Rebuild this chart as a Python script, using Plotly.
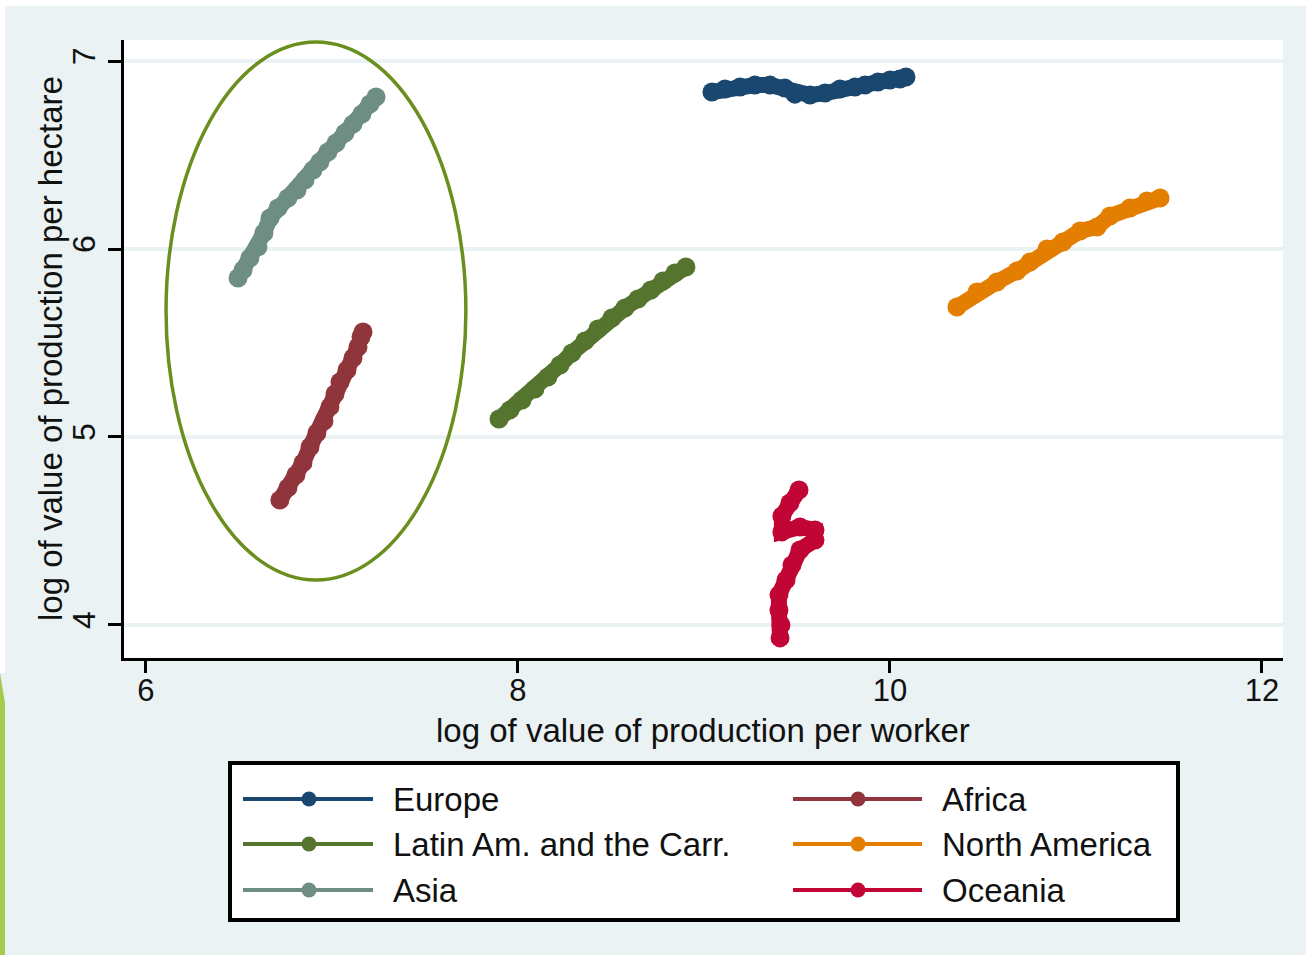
import plotly.graph_objects as go

W, H = 1306, 955

# ---- data: log value of production per worker (x) vs per hectare (y) ----
europe_x = [9.043, 9.113, 9.194, 9.274, 9.355, 9.435, 9.489, 9.570, 9.651, 9.731,
            9.812, 9.866, 9.935, 10.000, 10.054, 10.086]
europe_y = [6.835, 6.851, 6.862, 6.872, 6.872, 6.856, 6.824, 6.819, 6.830, 6.851,
            6.862, 6.872, 6.888, 6.899, 6.904, 6.915]

latin_x = [7.898, 7.957, 8.022, 8.091, 8.161, 8.226, 8.290, 8.360, 8.430, 8.505,
           8.575, 8.645, 8.715, 8.780, 8.844, 8.903]
latin_y = [5.096, 5.144, 5.197, 5.255, 5.319, 5.383, 5.447, 5.511, 5.574, 5.633,
           5.686, 5.734, 5.782, 5.830, 5.872, 5.904]

asia_x = [6.495, 6.522, 6.559, 6.602, 6.634, 6.667, 6.710, 6.763, 6.812, 6.855,
          6.898, 6.935, 6.978, 7.022, 7.070, 7.113, 7.161, 7.204, 7.237]
asia_y = [5.846, 5.888, 5.952, 6.011, 6.085, 6.165, 6.218, 6.271, 6.314, 6.367,
          6.420, 6.463, 6.516, 6.564, 6.617, 6.665, 6.718, 6.771, 6.809]

africa_x = [6.720, 6.763, 6.806, 6.844, 6.882, 6.919, 6.957, 6.989, 7.016, 7.043,
            7.081, 7.113, 7.140, 7.156, 7.167]
africa_y = [4.665, 4.729, 4.798, 4.862, 4.947, 5.021, 5.085, 5.160, 5.229, 5.293,
            5.356, 5.420, 5.479, 5.532, 5.559]

namerica_x = [10.360, 10.468, 10.575, 10.683, 10.753, 10.844, 10.930, 11.022,
              11.113, 11.183, 11.290, 11.382, 11.452]
namerica_y = [5.691, 5.771, 5.824, 5.883, 5.931, 6.000, 6.037, 6.096,
              6.117, 6.176, 6.218, 6.255, 6.271]

oceania_x = [9.511, 9.462, 9.419, 9.419, 9.516, 9.597, 9.597, 9.516, 9.473,
             9.441, 9.403, 9.403, 9.414, 9.409]
oceania_y = [4.718, 4.649, 4.580, 4.495, 4.521, 4.505, 4.452, 4.399, 4.319,
             4.239, 4.160, 4.080, 4.000, 3.931]

regions = ["Europe", "Latin Am. and the Carr.", "Asia", "Africa", "North America", "Oceania"]
colors = ["#1a476f", "#55752f", "#6e8e84", "#90353b", "#e37e00", "#c10534"]
series = [(europe_x, europe_y), (latin_x, latin_y), (asia_x, asia_y),
          (africa_x, africa_y), (namerica_x, namerica_y), (oceania_x, oceania_y)]

x_ticks = [6, 8, 10, 12]
y_ticks = [4, 5, 6, 7]

FONT = "Liberation Sans, Arial, sans-serif"
BG = "#eaf2f3"
INK = "#111111"


def px_x(p):
    return p / W


def px_y(p):
    return 1 - p / H


fig = go.Figure()

for name, col, (xs, ys) in zip(regions, colors, series):
    fig.add_trace(go.Scatter(
        x=xs, y=ys, mode="lines+markers", name=name,
        line=dict(color=col, width=16),
        marker=dict(color=col, size=19, opacity=1, line=dict(width=0)),
        showlegend=False, xaxis="x", yaxis="y",
    ))

# ---- legend drawn on its own small axis pair (units = pixels inside the box) ----
leg_x0, leg_x1, leg_top, leg_bot = 230, 1178, 763, 920
rows = [leg_bot - 799, leg_bot - 844, leg_bot - 890]
cols = [(243 - leg_x0, 309 - leg_x0, 373 - leg_x0, 391 - leg_x0),
        (793 - leg_x0, 858 - leg_x0, 922 - leg_x0, 940 - leg_x0)]
order = [(0, 0), (0, 1), (0, 2), (1, 0), (1, 1), (1, 2)]
annotations = []
for name, col, (c, r) in zip(regions, colors, order):
    a, m, b, t = cols[c]
    yy = rows[r]
    fig.add_trace(go.Scatter(
        x=[a, b], y=[yy, yy], mode="lines",
        line=dict(color=col, width=4),
        showlegend=False, hoverinfo="skip", xaxis="x2", yaxis="y2",
    ))
    fig.add_trace(go.Scatter(
        x=[m], y=[yy], mode="markers",
        marker=dict(color=col, size=15, opacity=1, line=dict(width=0)),
        showlegend=False, hoverinfo="skip", xaxis="x2", yaxis="y2",
    ))
    annotations.append(dict(
        x=t, y=yy, xref="x2", yref="y2", text=name, showarrow=False,
        xanchor="left", yanchor="middle",
        font=dict(family=FONT, size=33, color=INK),
    ))

# axis titles
annotations.append(dict(
    x=px_x(703), y=px_y(730), xref="paper", yref="paper",
    text="log of value of production per worker", showarrow=False,
    xanchor="center", yanchor="middle",
    font=dict(family=FONT, size=33, color=INK),
))
annotations.append(dict(
    x=px_x(50), y=px_y(349), xref="paper", yref="paper",
    text="log of value of production per hectare", showarrow=False,
    textangle=-90, xanchor="center", yanchor="middle",
    font=dict(family=FONT, size=33, color=INK),
))

shapes = [
    # highlighted cluster
    dict(type="circle", xref="x", yref="y", x0=6.108, x1=7.72, y0=4.239, y1=7.101,
         line=dict(color="#6b8f1f", width=3.5), layer="above"),
    # legend frame
    dict(type="rect", xref="paper", yref="paper",
         x0=px_x(leg_x0), x1=px_x(leg_x1), y0=px_y(leg_bot), y1=px_y(leg_top),
         line=dict(color="black", width=4), fillcolor="rgba(0,0,0,0)", layer="above"),
    # page edges
    dict(type="rect", xref="paper", yref="paper", x0=0, x1=1, y0=px_y(6), y1=1,
         line=dict(width=0), fillcolor="white", layer="above"),
    dict(type="rect", xref="paper", yref="paper", x0=0, x1=px_x(5), y0=px_y(673), y1=1,
         line=dict(width=0), fillcolor="white", layer="above"),
    dict(type="path", xref="paper", yref="paper",
         path=f"M 0,{px_y(673)} L {px_x(5)},{px_y(703)} L {px_x(5)},0 L 0,0 Z",
         line=dict(width=0), fillcolor="#a4cc4a", layer="above"),
]

fig.update_layout(
    width=W, height=H,
    margin=dict(l=0, r=0, t=0, b=0),
    paper_bgcolor=BG, plot_bgcolor="white",
    showlegend=False,
    font=dict(family=FONT, size=32, color=INK),
    xaxis=dict(
        domain=[px_x(124), px_x(1283)], range=[5.882, 12.113],
        tickvals=x_ticks, ticktext=[str(v) for v in x_ticks],
        ticks="outside", ticklen=12, tickwidth=3, tickcolor="black",
        ticklabelstandoff=-9,
        showline=True, linecolor="black", linewidth=3,
        showgrid=False, zeroline=False,
        tickfont=dict(family=FONT, size=31, color=INK),
        anchor="y",
    ),
    yaxis=dict(
        domain=[px_y(658), px_y(40)], range=[3.824, 7.112],
        tickvals=y_ticks, ticktext=[str(v) for v in y_ticks],
        ticks="outside", ticklen=13, tickwidth=3, tickcolor="black",
        tickangle=-90,
        showline=True, linecolor="black", linewidth=3,
        showgrid=True, gridcolor=BG, gridwidth=3.5, zeroline=False,
        tickfont=dict(family=FONT, size=32, color=INK),
        anchor="x",
    ),
    xaxis2=dict(
        domain=[px_x(leg_x0), px_x(leg_x1)], range=[0, leg_x1 - leg_x0],
        visible=False, fixedrange=True, anchor="y2",
    ),
    yaxis2=dict(
        domain=[px_y(leg_bot), px_y(leg_top)], range=[0, leg_bot - leg_top],
        visible=False, fixedrange=True, anchor="x2",
    ),
    shapes=shapes,
    annotations=annotations,
)

fig.write_html("out.html")
